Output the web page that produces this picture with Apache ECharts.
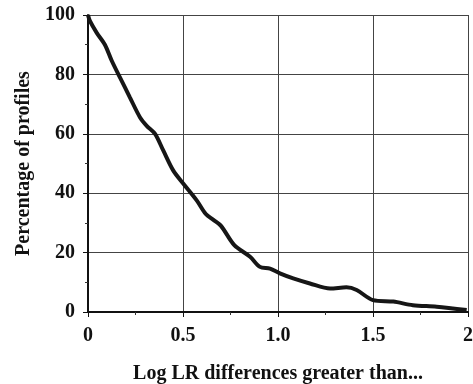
<!DOCTYPE html>
<html><head><meta charset="utf-8">
<script src="https://cdn.jsdelivr.net/npm/echarts@6/dist/echarts.min.js"></script>
<style>html,body{margin:0;padding:0;background:#fff}#c{width:473px;height:384px}</style>
</head><body><div id="c"></div>
<script>
var xValues = [0, 0.01, 0.046, 0.089, 0.125, 0.168, 0.221, 0.274, 0.309, 0.353, 0.396, 0.449, 0.502, 0.572, 0.62, 0.66, 0.7, 0.77, 0.853, 0.905, 0.958, 1.01, 1.08, 1.168, 1.274, 1.36, 1.414, 1.5, 1.607, 1.71, 1.835, 1.993];
var yValues = [100, 98, 94, 90, 84.6, 79, 72.2, 65.5, 62.7, 60, 54.4, 47.6, 43.2, 37.6, 33, 31, 29, 22.5, 18.6, 15.2, 14.6, 13, 11.3, 9.6, 7.9, 8.3, 7.4, 4, 3.5, 2.3, 1.8, 0.7];
var xTickLabels = {"0": "0", "0.5": "0.5", "1": "1.0", "1.5": "1.5", "2": "2"};
var yTicks = [0, 20, 40, 60, 80, 100];
var xTitle = "Log LR differences greater than...";
var yTitle = "Percentage of profiles";

var font = "'Liberation Serif','Times New Roman',serif";
var chart = echarts.init(document.getElementById('c'));
chart.setOption({
  animation: false,
  grid: {left: 88, right: 5, top: 15, bottom: 72, containLabel: false, outerBoundsMode: 'none'},
  xAxis: {
    type: 'value', min: 0, max: 2, interval: 0.5,
    name: xTitle, nameLocation: 'middle', nameGap: 52,
    nameTextStyle: {fontFamily: font, fontWeight: 'bold', fontSize: 20, color: '#111'},
    axisLine: {show: true, onZero: false, lineStyle: {color: '#111', width: 2}},
    axisTick: {show: true, length: 5, lineStyle: {color: '#111'}},
    minorTick: {show: true, splitNumber: 2, length: 3, lineStyle: {color: '#333'}},
    axisLabel: {margin: 14, fontFamily: font, fontWeight: 'bold', fontSize: 20, color: '#111',
      formatter: function (v) { return xTickLabels[String(v)]; }},
    splitLine: {show: true, lineStyle: {color: '#444', width: 1}}
  },
  yAxis: {
    type: 'value', min: 0, max: 100, interval: 20,
    name: yTitle, nameLocation: 'middle', nameGap: 53, nameRotate: 90,
    nameTextStyle: {fontFamily: font, fontWeight: 'bold', fontSize: 20, color: '#111'},
    axisLine: {show: true, lineStyle: {color: '#111', width: 2}},
    axisTick: {show: true, length: 5, lineStyle: {color: '#111'}},
    minorTick: {show: true, splitNumber: 2, length: 3, lineStyle: {color: '#333'}},
    axisLabel: {margin: 13, fontFamily: font, fontWeight: 'bold', fontSize: 20, color: '#111',
      formatter: function (v) { return yTicks.indexOf(v) >= 0 ? String(v) : ''; }},
    splitLine: {show: true, lineStyle: {color: '#444', width: 1}}
  },
  series: [{
    type: 'line', smooth: 0.3, symbol: 'none',
    data: xValues.map(function (x, i) { return [x, yValues[i]]; }),
    lineStyle: {color: '#161616', width: 4}
  }]
});
</script></body></html>
